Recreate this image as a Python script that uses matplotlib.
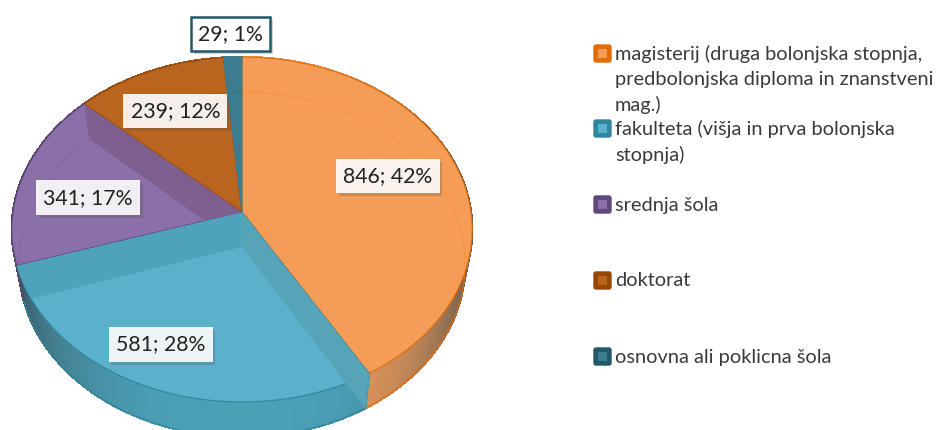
import numpy as np
import matplotlib.pyplot as plt
from matplotlib.colors import to_rgb
from matplotlib.patches import Polygon, FancyBboxPatch
import matplotlib.patheffects as pe

categories = [
    "magisterij (druga bolonjska stopnja,\npredbolonjska diploma in znanstveni\nmag.)",
    "fakulteta (višja in prva bolonjska\nstopnja)",
    "srednja šola",
    "doktorat",
    "osnovna ali poklicna šola",
]
values = [846, 581, 341, 239, 29]
percents = [42, 28, 17, 12, 1]

# styles, same order as the slices
face_colors = ["#F59D56", "#5BB1CB", "#8A6FA8", "#B9651F", "#3C7C90"]
edge_colors = ["#E36C0A", "#31859C", "#60497A", "#974806", "#215968"]
side_colors = ["#E89A5C", "#4BA0B6", "#7F5F90", "#A85A1C", "#3C7C90"]

# layout of the pie in pixels
CX = 242
CY_TOP, CY_BOT = 212, 247
RX_TOP, RX_BOT = 229, 222
RY = 170.7
PERSP = 0.1014

# label anchor: radius fraction on the slice mid angle plus a pixel nudge
label_layout = [(0.7, -6, -5), (0.7, -20, 13), (0.7, 0, 11), (0.7, 0, 0), (1.0, -2, -23)]

legend_rows = [54, 129, 205, 281, 357]
LINE_PITCH = 25.5


def project(theta, r=1.0, top=True):
    # theta runs clockwise from 12 o'clock, the circle gets a perspective tilt
    X = r * np.sin(theta)
    Y = r * np.cos(theta)
    den = 1 + PERSP * Y
    rx = RX_TOP if top else RX_BOT
    cy = CY_TOP if top else CY_BOT
    return CX + rx * X / den, cy - RY * Y / den


def shade(color, amount):
    c = np.array(to_rgb(color))
    return tuple(c * (1 - amount) + np.array([0.2, 0.25, 0.28]) * amount)


plt.rcParams["font.family"] = ["Lato", "DejaVu Sans"]
fig = plt.figure(figsize=(9.36, 4.30), dpi=100)
ax = fig.add_axes([0, 0, 1, 1])
ax.set_xlim(0, 936)
ax.set_ylim(430, 0)
ax.axis("off")

fractions = np.array(values) / sum(values)
edges = np.concatenate([[0], np.cumsum(fractions)]) * 2 * np.pi

# side walls first, cut in small strips so they get a soft gradient
for i in range(len(values)):
    ts = np.linspace(edges[i], edges[i + 1], int(fractions[i] * 240) + 2)
    for t0, t1 in zip(ts[:-1], ts[1:]):
        xa0, ya0 = project(t0)
        xa1, ya1 = project(t1)
        xb0, yb0 = project(t0, top=False)
        xb1, yb1 = project(t1, top=False)
        c = shade(side_colors[i], 0.75 * abs(np.sin((t0 + t1) / 2)) ** 3)
        ax.add_patch(Polygon([(xa0, ya0), (xa1, ya1), (xb1, yb1), (xb0, yb0)],
                             fc=c, ec=c, lw=1, antialiased=False, zorder=1))
    xs, ys = project(ts, top=False)
    ax.plot(xs, ys, color=edge_colors[i], lw=0.8, zorder=1.5)

# top faces
faces = []
for i in range(len(values)):
    ts = np.linspace(edges[i], edges[i + 1], 120)
    xs, ys = project(ts)
    pts = [(CX, CY_TOP)] + list(zip(xs, ys))
    ec = face_colors[i] if i == 4 else edge_colors[i]
    faces.append(ax.add_patch(Polygon(pts, fc=face_colors[i], ec=ec, lw=0.8, zorder=2)))

# bottom rim seen through the top face
for i in range(len(values)):
    ts = np.linspace(edges[i], edges[i + 1], 120)
    xs, ys = project(ts, top=False)
    line, = ax.plot(xs, ys, color=edge_colors[i], lw=0.6, alpha=0.25, zorder=2.2)
    line.set_clip_path(faces[i])

# inner walls between the slices, seen through the glass
walls = [(1, 1, "#55A4B8", False), (2, 1, "#4EA2BC", True), (3, 2, "#7F5F90", True)]
for edge_i, owner, color, clip in walls:
    x0, y0 = project(edges[edge_i])
    x1, y1 = project(edges[edge_i], top=False)
    band = Polygon([(CX, CY_TOP), (x0, y0), (x1, y1), (CX, CY_BOT)], fc=color, ec="none", zorder=2.5)
    ax.add_patch(band)
    if clip:
        band.set_clip_path(faces[owner])

# data labels
for i in range(len(values)):
    mid = (edges[i] + edges[i + 1]) / 2
    r, dx, dy = label_layout[i]
    x, y = project(mid, r)
    txt = f"{values[i]}; {percents[i]}%"
    if i == 4:
        box = dict(boxstyle="square,pad=0.34", fc="white", ec=edge_colors[4], lw=1.8)
    else:
        box = dict(boxstyle="square,pad=0.34", fc="white", ec="none", alpha=0.9)
    t_obj = ax.text(x + dx, y + dy, txt, ha="center", va="center", fontsize=15.3,
                    color="#222222", bbox=box, zorder=5)
    t_obj.get_bbox_patch().set_path_effects(
        [pe.SimplePatchShadow(offset=(2, -2), alpha=0.25), pe.Normal()])

# legend, rows are not evenly spaced so it is placed by hand
for i, row in enumerate(legend_rows):
    ax.add_patch(FancyBboxPatch((594, row - 9), 17, 17, boxstyle="round,pad=0,rounding_size=2",
                                fc=edge_colors[i], ec=edge_colors[i], lw=1, zorder=3))
    ax.add_patch(Polygon([(598, row - 5), (607, row - 5), (607, row + 4), (598, row + 4)],
                         fc=face_colors[i], ec="none", zorder=3.1))
    for k, line in enumerate(categories[i].split("\n")):
        ax.text(615, row + k * LINE_PITCH, line, ha="left", va="center", fontsize=14.4,
                color="#3A3A3A", zorder=3)

fig.savefig("out.png", dpi=100)
